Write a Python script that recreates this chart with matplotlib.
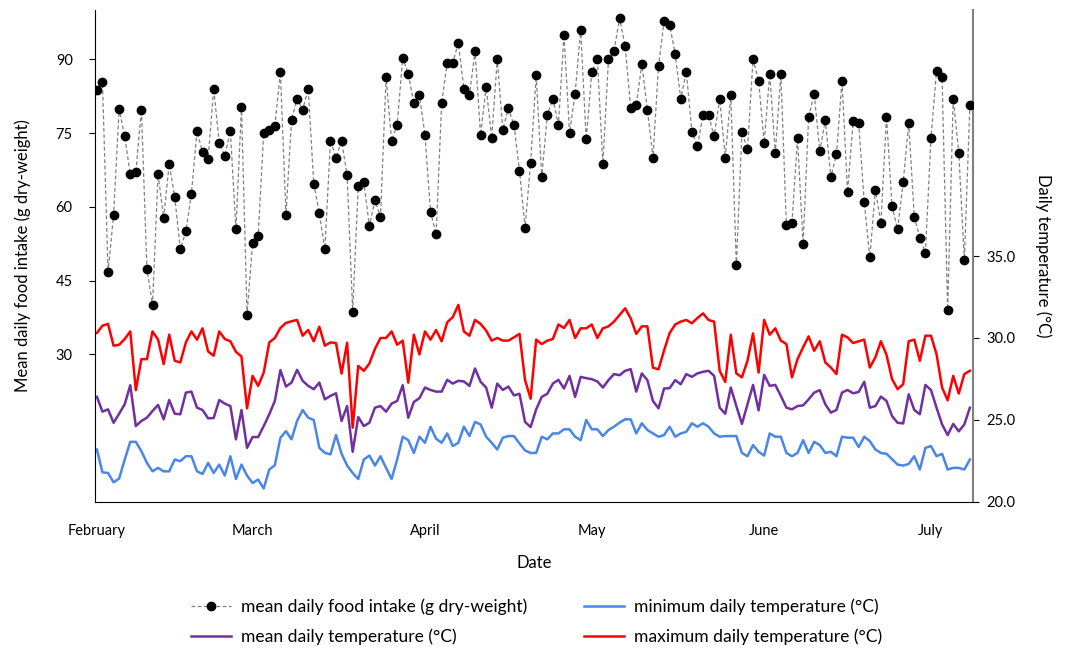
import numpy as np
import matplotlib
matplotlib.use("Agg")
import matplotlib.pyplot as plt

plt.rcParams['font.family'] = ['Lato', 'DejaVu Sans']

# daily values from 1 February to 8 July
food = [83.7, 85.4, 46.7, 58.4, 79.9, 74.3, 66.6, 67.0, 79.7, 47.4,
        40.1, 66.6, 57.7, 68.7, 62.0, 51.4, 55.0, 62.7, 75.4, 71.1,
        69.7, 84.0, 73.0, 70.4, 75.4, 55.4, 80.3, 38.1, 52.7, 54.0,
        75.1, 75.7, 76.4, 87.4, 58.4, 77.6, 82.0, 79.7, 84.0, 64.7,
        58.7, 51.4, 73.4, 70.0, 73.4, 66.4, 38.7, 64.3, 65.0, 56.1,
        61.3, 58.0, 86.3, 73.4, 76.7, 90.3, 87.0, 81.0, 82.7, 74.6,
        59.0, 54.4, 81.0, 89.3, 89.3, 93.3, 84.0, 82.7, 91.6, 74.6,
        84.4, 74.0, 90.0, 75.7, 80.0, 76.7, 67.3, 55.7, 69.0, 86.7,
        66.0, 78.7, 82.0, 76.7, 95.0, 75.0, 83.0, 96.0, 73.7, 87.4,
        90.0, 68.7, 90.0, 91.7, 98.3, 92.7, 80.0, 80.7, 89.0, 79.7,
        70.0, 88.6, 97.7, 97.0, 91.0, 82.0, 87.4, 75.3, 72.3, 78.7,
        78.7, 74.3, 82.0, 70.0, 82.7, 48.1, 75.3, 71.7, 90.0, 85.6,
        73.0, 87.0, 71.0, 87.0, 56.4, 56.7, 74.0, 52.4, 78.3, 83.0,
        71.3, 77.6, 66.0, 70.7, 85.6, 63.0, 77.4, 77.0, 61.0, 49.7,
        63.4, 56.7, 78.3, 60.1, 55.4, 65.0, 77.0, 58.0, 53.7, 50.7,
        74.0, 87.7, 86.3, 39.1, 82.0, 71.0, 49.1, 80.7]

t_max = [30.31, 30.75, 30.86, 29.53, 29.59, 29.94, 30.40, 26.82, 28.71, 28.71,
         30.40, 29.90, 28.41, 30.20, 28.61, 28.51, 29.73, 30.40, 29.90, 30.59,
         29.18, 28.92, 30.40, 29.94, 29.80, 29.16,
         28.87, 25.71, 27.69, 27.08, 27.89, 29.73, 30.0, 30.61, 30.92, 31.02,
         31.10, 30.14, 30.49, 29.80, 30.69, 29.53, 29.73, 29.69, 27.83, 29.71,
         24.53, 28.30, 28.0, 28.44, 29.33, 30.0,
         30.0, 30.40, 29.59, 29.84, 27.28, 30.20, 29.0, 30.40, 29.90, 30.49,
         29.80, 30.96, 31.27, 32.02, 30.40, 30.14, 31.10, 30.86, 30.45, 29.84,
         30.0, 29.84, 29.84, 30.04, 30.25, 27.43,
         26.30, 29.90, 29.63, 29.84, 29.94, 30.82, 30.61, 31.10, 30.0, 30.59,
         30.59, 30.82, 30.0, 30.59, 30.71, 31.0, 31.41, 31.81, 31.2, 30.25,
         30.71, 30.71, 28.19, 28.09, 29.24, 30.30,
         30.82, 31.0, 31.1, 30.9, 31.22, 31.5, 31.1, 31.0, 28.0, 27.32,
         30.2, 27.84, 27.6, 28.61, 30.28, 27.89, 31.1, 30.2, 30.59, 29.84,
         29.63, 27.6, 28.71, 29.43, 30.10, 29.22,
         29.80, 28.51, 28.2, 27.8, 30.2, 30.04, 29.69, 29.80, 29.90, 28.2,
         28.82, 29.80, 28.98, 27.49, 26.88, 27.18, 29.80, 29.90, 28.61, 30.14,
         30.14, 29.02, 26.98, 26.20, 27.69, 26.61, 27.8, 28.0]

t_mean = [26.41, 25.51, 25.65, 24.83, 25.38, 25.96, 27.12, 24.63, 24.94, 25.14,
          25.55, 25.92, 25.04, 26.22, 25.38, 25.35, 26.67, 26.73, 25.75, 25.61,
          25.10, 25.12, 26.22, 26.0, 25.85, 23.82,
          25.61, 23.30, 23.96, 23.96, 24.63, 25.35, 26.16, 28.04, 27.04, 27.28,
          28.06, 27.39, 27.08, 26.88, 27.28, 26.26, 26.47, 26.63, 24.94, 25.85,
          23.06, 25.18, 24.63, 24.83, 25.75, 25.85,
          25.51, 26.0, 26.16, 27.12, 25.14, 26.1, 26.33, 26.98, 26.83, 26.73,
          26.73, 27.45, 27.22, 27.39, 27.35, 27.08, 28.14, 27.33, 26.98, 25.75,
          27.22, 26.83, 27.04, 26.5, 26.6, 24.88,
          24.57, 25.65, 26.41, 26.6, 27.22, 27.45, 26.92, 27.69, 26.41, 27.63,
          27.55, 27.49, 27.35, 26.98, 27.43, 27.80, 27.73, 28.0, 28.1, 26.73,
          27.84, 27.43, 26.16, 25.71, 26.92, 26.94,
          27.43, 27.18, 27.80, 27.63, 27.84, 27.94, 28.0, 27.69, 25.75, 25.38,
          26.98, 25.85, 24.76, 25.96, 27.14, 25.59, 27.75, 27.08, 27.14, 26.47,
          25.75, 25.65, 25.85, 25.89, 26.26, 26.67,
          26.82, 25.96, 25.45, 25.61, 26.67, 26.83, 26.63, 26.71, 27.33, 25.75,
          25.85, 26.43, 26.16, 25.24, 24.83, 24.79, 26.57, 25.61, 25.35, 27.14,
          26.83, 25.75, 24.73, 24.08, 24.76, 24.31, 24.73, 25.75]

t_min = [23.20, 21.81, 21.77, 21.20, 21.43, 22.59, 23.67, 23.67, 23.10, 22.38,
         21.87, 22.08, 21.87, 21.87, 22.59, 22.49, 22.79, 22.79, 21.87, 21.71,
         22.38, 21.77, 22.28, 21.61, 22.79, 21.40,
         22.28, 21.61, 21.16, 21.37, 20.82, 21.98, 22.24, 23.91, 24.32, 23.82,
         24.94, 25.61, 25.14, 25.0, 23.30, 23.0, 22.90, 24.08, 22.94, 22.22,
         21.77, 21.40, 22.59, 22.83, 22.22, 22.79,
         22.08, 21.40, 22.59, 23.98, 23.77, 22.99, 23.98, 23.61, 24.59, 23.86,
         23.61, 24.18, 23.41, 23.61, 24.59, 24.02, 24.88, 24.73, 23.98, 23.61,
         23.20, 23.92, 24.02, 24.02, 23.57, 23.14,
         22.99, 22.99, 23.98, 23.82, 24.18, 24.18, 24.43, 24.43, 23.98, 23.77,
         25.0, 24.43, 24.43, 24.02, 24.39, 24.59, 24.84, 25.04, 25.04, 24.18,
         24.80, 24.39, 24.18, 23.98, 24.08, 24.59,
         23.98, 24.18, 24.28, 24.80, 24.59, 24.80, 24.59, 24.18, 23.98, 24.02,
         24.02, 24.02, 22.99, 22.79, 23.47, 23.06, 22.83, 24.18, 23.98, 23.98,
         22.99, 22.79, 22.99, 23.77, 22.99, 23.67,
         23.47, 22.99, 23.06, 22.79, 23.98, 23.92, 23.92, 23.35, 23.98, 23.71,
         23.20, 22.99, 22.94, 22.61, 22.28, 22.22, 22.32, 22.79, 21.98, 23.30,
         23.41, 22.79, 22.94, 21.98, 22.08, 22.08, 21.98, 22.59]

months = ['February', 'March', 'April', 'May', 'June', 'July']
month_start = [0, 28, 59, 89, 120, 150]  # day index of each 1st

days = np.arange(len(food))

fig = plt.figure(figsize=(10.73, 6.51), dpi=100)
ax = fig.add_axes([0.0885, 0.2289, 0.818, 0.7557])
ax2 = ax.twinx()

ln_food, = ax.plot(days, food, '--', color='#808080', lw=0.9, dashes=(3, 2),
                   marker='o', ms=6, mfc='black', mec='black',
                   label='mean daily food intake (g dry-weight)')
ln_min, = ax2.plot(days, t_min, color='#4A86E8', lw=1.8,
                   label='minimum daily temperature (°C)')
ln_mean, = ax2.plot(days, t_mean, color='#7030A0', lw=1.8,
                    label='mean daily temperature (°C)')
ln_max, = ax2.plot(days, t_max, color='#FF0000', lw=1.8,
                   label='maximum daily temperature (°C)')

ax.set_xlim(-0.35, 157.5)
ax.set_ylim(0, 100)
ax.set_yticks([30, 45, 60, 75, 90])
ax2.set_ylim(20, 50)
ax2.set_yticks([20, 25, 30, 35])
ax2.set_yticklabels(['%.1f' % v for v in [20, 25, 30, 35]])

ax.set_xticks(month_start)
ax.set_xticklabels(months)
ax.tick_params(axis='x', length=0, labelsize=10.5, pad=16)
ax.tick_params(axis='y', length=4, labelsize=10.5, pad=12)
ax2.tick_params(axis='y', length=4, labelsize=10.5, pad=6)

for a in (ax, ax2):
    a.spines['top'].set_visible(False)
ax.spines['right'].set_visible(False)
ax2.spines['left'].set_visible(False)
ax2.spines['bottom'].set_visible(False)
ax2.spines['right'].set_color('#808080')
ax2.spines['right'].set_linewidth(1.5)

ax.set_xlabel('Date', fontsize=12, labelpad=12)
ax.set_ylabel('Mean daily food intake (g dry-weight)', fontsize=12, labelpad=18)
ax2.set_ylabel('Daily temperature (°C)', fontsize=12, rotation=270, labelpad=26)

# food dots drawn over temperature lines
ax.set_zorder(ax2.get_zorder() + 1)
ax.patch.set_visible(False)

fig.legend(handles=[ln_food, ln_mean, ln_min, ln_max], loc='center',
           bbox_to_anchor=(0.5, 0.045), ncol=2, frameon=False, fontsize=12.6,
           handlelength=2.3, handletextpad=0.6, columnspacing=3.2,
           labelspacing=0.75)

fig.savefig('out.png', dpi=100)
